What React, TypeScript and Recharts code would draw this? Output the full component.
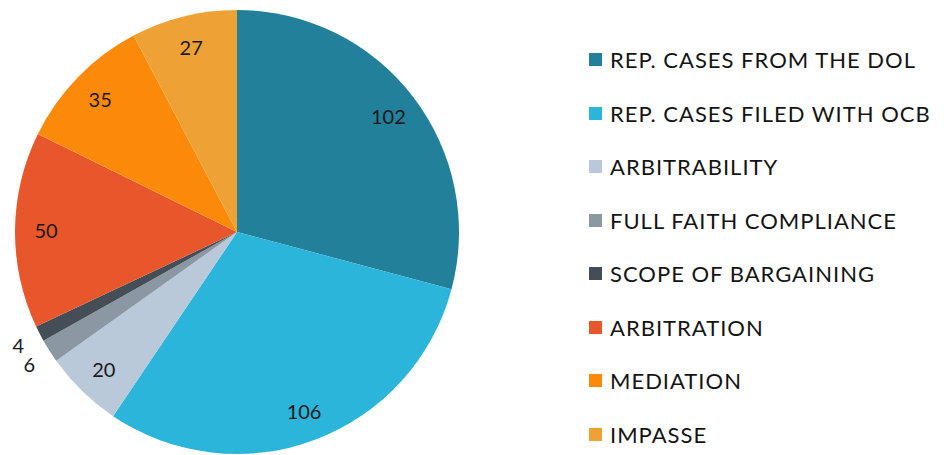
import { PieChart, Pie, Cell, Legend } from "recharts"

// Case counts by category, clockwise from 12 o'clock
const categories = [
  "REP. CASES FROM THE DOL",
  "REP. CASES FILED WITH OCB",
  "ARBITRABILITY",
  "FULL FAITH COMPLIANCE",
  "SCOPE OF BARGAINING",
  "ARBITRATION",
  "MEDIATION",
  "IMPASSE",
]
const counts = [102, 106, 20, 6, 4, 50, 35, 27]
const colors = ["#22809a", "#2bb5da", "#b9c9da", "#8b97a2", "#454d56", "#e8572b", "#fb8a0b", "#eea236"]

const data = categories.map((name, i) => ({ name, value: counts[i], color: colors[i] }))

const FONT = "Lato, 'Open Sans', sans-serif"
const RAD = Math.PI / 180

const renderLabel = (props: any) => {
  const { cx, cy, midAngle, outerRadius, value } = props
  // small slices get their number outside the pie
  const r = value < 10 ? outerRadius + 24 : outerRadius * 0.86
  const x = cx + r * Math.cos(-midAngle * RAD)
  const y = cy + r * Math.sin(-midAngle * RAD)
  return (
    <text x={x} y={y} fill="#1a1a1a" fontSize={20} fontFamily={FONT} textAnchor="middle" dominantBaseline="central">
      {value}
    </text>
  )
}

const renderLegend = () => (
  <div style={{ fontFamily: FONT }}>
    {data.map((d) => (
      <div key={d.name} style={{ display: "flex", alignItems: "center", height: 53.5 }}>
        <span style={{ width: 13, height: 13, background: d.color, marginRight: 8, display: "inline-block" }} />
        <span style={{ fontSize: 22, color: "#141414", letterSpacing: 1 }}>{d.name}</span>
      </div>
    ))}
  </div>
)

export default function App() {
  return (
    <div style={{ position: "absolute", left: 0, top: 0, background: "#fff" }}>
      <PieChart width={944} height={455}>
        <Pie
          data={data}
          dataKey="value"
          nameKey="name"
          cx={232}
          cy={227}
          outerRadius={222}
          startAngle={90}
          endAngle={-270}
          stroke="none"
          labelLine={false}
          label={renderLabel}
          isAnimationActive={false}
        >
          {data.map((entry, index) => (
            <Cell key={`cell-${index}`} fill={entry.color} />
          ))}
        </Pie>
        <Legend content={renderLegend} wrapperStyle={{ position: "absolute", left: 589, top: 33, width: 355 }} />
      </PieChart>
    </div>
  )
}
